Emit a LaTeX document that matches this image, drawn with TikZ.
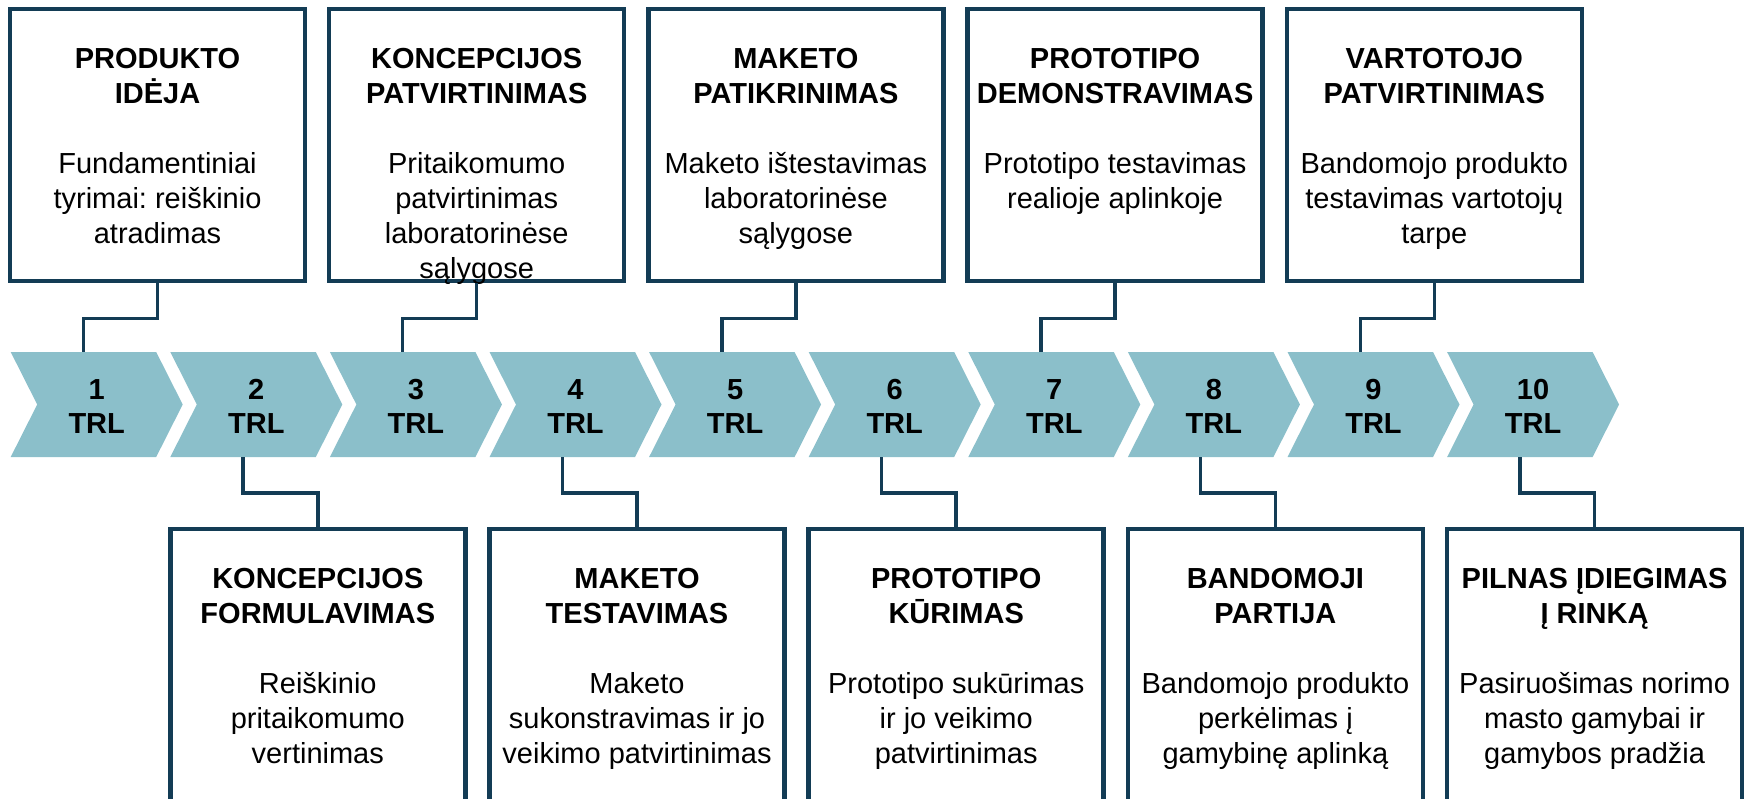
\documentclass[tikz,border=0pt]{standalone}
\usepackage{fontspec}
\setmainfont{Liberation Sans}
\usetikzlibrary{calc}
\definecolor{navy}{HTML}{133C55}
\definecolor{chev}{HTML}{8BBFCA}
\frenchspacing
\begin{document}
\begin{tikzpicture}[x=1pt,y=-1pt,
  box/.style={draw=navy, line width=4.5pt, fill=white, inner sep=0pt, minimum width=295pt},
  ubox/.style={box, minimum height=272pt},
  lbox/.style={box, minimum height=311pt},
  conn/.style={draw=navy, line width=3.5pt},
  txt/.style={inner sep=0pt, anchor=base, font=\fontsize{29}{35}\selectfont},
  chevshape/.style={fill=chev}
]
\useasboundingbox (0,0) rectangle (1748,798);
\clip (0,0) rectangle (1748,798);

% chevrons
\foreach \k in {1,...,10} {
  \pgfmathsetmacro\L{10.7+159.6*(\k-1)}
  \fill[chevshape] (\L,352) -- ++(145.5,0) -- ++(26.5,52.5) -- ++(-26.5,52.5) -- ++(-145.5,0) -- ++(26.5,-52.5) -- cycle;
  \coordinate (ch\k t) at (\L+72.75,352);
  \coordinate (ch\k b) at (\L+72.75,457);
  \node[txt] (n\k) at (\L+86,399.5) {\bfseries\begin{tabular}[t]{@{}c@{}}\k\\[-1pt]TRL\end{tabular}};
}

% upper boxes
\node[ubox] (u1) at (157.5,145) {};
\node[ubox] (u2) at (476.7,145) {};
\node[ubox] (u3) at (795.9,145) {};
\node[ubox] (u4) at (1115.1,145) {};
\node[ubox] (u5) at (1434.3,145) {};

\node[txt] (u1t) at (157.5,68.4) {\begin{tabular}[t]{@{}c@{}}\textbf{PRODUKTO}\\\textbf{IDĖJA}\\ \\Fundamentiniai\\tyrimai: reiškinio\\atradimas\end{tabular}};
\node[txt] (u2t) at (476.7,68.4) {\begin{tabular}[t]{@{}c@{}}\textbf{KONCEPCIJOS}\\\textbf{PATVIRTINIMAS}\\ \\Pritaikomumo\\patvirtinimas\\laboratorinėse\\sąlygose\end{tabular}};
\node[txt] (u3t) at (795.9,68.4) {\begin{tabular}[t]{@{}c@{}}\textbf{MAKETO}\\\textbf{PATIKRINIMAS}\\ \\Maketo ištestavimas\\laboratorinėse\\sąlygose\end{tabular}};
\node[txt] (u4t) at (1115.1,68.4) {\begin{tabular}[t]{@{}c@{}}\textbf{PROTOTIPO}\\\textbf{DEMONSTRAVIMAS}\\ \\Prototipo testavimas\\realioje aplinkoje\end{tabular}};
\node[txt] (u5t) at (1434.3,68.4) {\begin{tabular}[t]{@{}c@{}}\textbf{VARTOTOJO}\\\textbf{PATVIRTINIMAS}\\ \\Bandomojo produkto\\testavimas vartotojų\\tarpe\end{tabular}};

% lower boxes
\node[lbox] (l1) at (317.8,684.5) {};
\node[lbox] (l2) at (637.0,684.5) {};
\node[lbox] (l3) at (956.2,684.5) {};
\node[lbox] (l4) at (1275.4,684.5) {};
\node[lbox] (l5) at (1594.6,684.5) {};

\node[txt] (l1t) at (317.8,588.4) {\begin{tabular}[t]{@{}c@{}}\textbf{KONCEPCIJOS}\\\textbf{FORMULAVIMAS}\\ \\Reiškinio\\pritaikomumo\\vertinimas\end{tabular}};
\node[txt] (l2t) at (637.0,588.4) {\begin{tabular}[t]{@{}c@{}}\textbf{MAKETO}\\\textbf{TESTAVIMAS}\\ \\Maketo\\sukonstravimas ir jo\\veikimo patvirtinimas\end{tabular}};
\node[txt] (l3t) at (956.2,588.4) {\begin{tabular}[t]{@{}c@{}}\textbf{PROTOTIPO}\\\textbf{KŪRIMAS}\\ \\Prototipo sukūrimas\\ir jo veikimo\\patvirtinimas\end{tabular}};
\node[txt] (l4t) at (1275.4,588.4) {\begin{tabular}[t]{@{}c@{}}\textbf{BANDOMOJI}\\\textbf{PARTIJA}\\ \\Bandomojo produkto\\perkėlimas į\\gamybinę aplinką\end{tabular}};
\node[txt] (l5t) at (1594.6,588.4) {\begin{tabular}[t]{@{}c@{}}\textbf{PILNAS ĮDIEGIMAS}\\\textbf{Į RINKĄ}\\ \\Pasiruošimas norimo\\masto gamybai ir\\gamybos pradžia\end{tabular}};

% connectors
\draw[conn] (u1.south) -- ++(0,35) -| (ch1t);
\draw[conn] (u2.south) -- ++(0,35) -| (ch3t);
\draw[conn] (u3.south) -- ++(0,35) -| (ch5t);
\draw[conn] (u4.south) -- ++(0,35) -| (ch7t);
\draw[conn] (u5.south) -- ++(0,35) -| (ch9t);
\draw[conn] (ch2b) -- ++(0,36) -| (l1.north);
\draw[conn] (ch4b) -- ++(0,36) -| (l2.north);
\draw[conn] (ch6b) -- ++(0,36) -| (l3.north);
\draw[conn] (ch8b) -- ++(0,36) -| (l4.north);
\draw[conn] (ch10b) -- ++(0,36) -| (l5.north);
\end{tikzpicture}
\end{document}
